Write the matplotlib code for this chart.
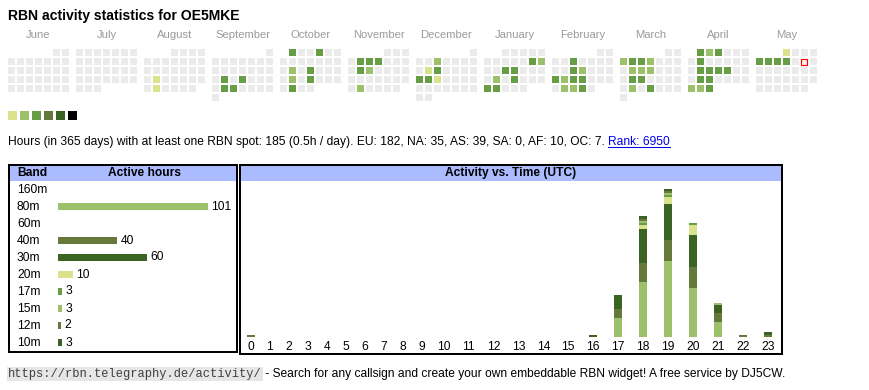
import datetime as dt
import calendar
import matplotlib
matplotlib.use("Agg")
import matplotlib.pyplot as plt
from matplotlib.patches import Rectangle
from matplotlib.lines import Line2D
from matplotlib.transforms import IdentityTransform

# ---------------- data ----------------
callsign = "OE5MKE"
first_month = (2024, 6)
n_months = 12
today = "2025-05-10"

# daily activity level (1..5) for days with RBN spots
active_days = {
    "2024-08-20": 1, "2024-08-27": 1,
    "2024-09-17": 3, "2024-09-19": 3, "2024-09-24": 3, "2024-09-25": 3,
    "2024-10-01": 3, "2024-10-04": 3, "2024-10-15": 2, "2024-10-17": 3,
    "2024-10-22": 2, "2024-10-24": 3, "2024-10-29": 3,
    "2024-11-05": 3, "2024-11-06": 3, "2024-11-07": 3, "2024-11-12": 3,
    "2024-11-13": 2, "2024-11-26": 2,
    "2024-12-04": 2, "2024-12-10": 1, "2024-12-11": 3, "2024-12-16": 3,
    "2024-12-17": 3, "2024-12-18": 1,
    "2025-01-11": 3, "2025-01-12": 2, "2025-01-15": 3, "2025-01-16": 3,
    "2025-01-21": 2, "2025-01-23": 3, "2025-01-27": 3, "2025-01-28": 3,
    "2025-02-05": 3, "2025-02-12": 3, "2025-02-13": 2, "2025-02-17": 3,
    "2025-02-18": 2, "2025-02-19": 3, "2025-02-20": 3, "2025-02-25": 2,
    "2025-02-26": 2, "2025-02-27": 3,
    "2025-03-03": 2, "2025-03-04": 3, "2025-03-05": 3, "2025-03-06": 2,
    "2025-03-11": 2, "2025-03-12": 2, "2025-03-13": 2, "2025-03-18": 3,
    "2025-03-19": 3, "2025-03-25": 2, "2025-03-27": 3,
    "2025-04-01": 3, "2025-04-02": 2, "2025-04-03": 3, "2025-04-08": 3,
    "2025-04-15": 3, "2025-04-16": 3, "2025-04-17": 3, "2025-04-18": 3,
    "2025-04-22": 3, "2025-04-23": 3, "2025-04-28": 2, "2025-04-29": 2,
    "2025-04-30": 3,
    "2025-05-01": 1, "2025-05-05": 3, "2025-05-06": 3, "2025-05-07": 3,
    "2025-05-08": 3,
}

total_hours = 185
per_day = "0.5h / day"
continents = ["EU", "NA", "AS", "SA", "AF", "OC"]
continent_hours = [182, 35, 39, 0, 10, 7]
rank = 6950

bands = ["160m", "80m", "60m", "40m", "30m", "20m", "17m", "15m", "12m", "10m"]
band_hours = [0, 101, 0, 40, 60, 10, 3, 3, 2, 3]

hours = list(range(24))
hourly = {
    "80m": [0, 0, 0, 0, 0, 0, 0, 0, 0, 0, 0, 0, 0, 0, 0, 0, 0, 9, 26, 36, 23, 7, 0, 0],
    "40m": [1, 0, 0, 0, 0, 0, 0, 0, 0, 0, 0, 0, 0, 0, 0, 0, 0, 4, 9, 10, 10, 4, 1, 1],
    "30m": [0, 0, 0, 0, 0, 0, 0, 0, 0, 0, 0, 0, 0, 0, 0, 0, 1, 7, 16, 17, 15, 4, 0, 0],
    "20m": [0, 0, 0, 0, 0, 0, 0, 0, 0, 0, 0, 0, 0, 0, 0, 0, 0, 0, 2, 3, 5, 0, 0, 0],
    "17m": [0, 0, 0, 0, 0, 0, 0, 0, 0, 0, 0, 0, 0, 0, 0, 0, 0, 0, 1, 1, 1, 0, 0, 0],
    "15m": [0, 0, 0, 0, 0, 0, 0, 0, 0, 0, 0, 0, 0, 0, 0, 0, 0, 0, 1, 1, 0, 1, 0, 0],
    "12m": [0, 0, 0, 0, 0, 0, 0, 0, 0, 0, 0, 0, 0, 0, 0, 0, 0, 0, 1, 1, 0, 0, 0, 0],
    "10m": [0, 0, 0, 0, 0, 0, 0, 0, 0, 0, 0, 0, 0, 0, 0, 0, 0, 0, 1, 1, 0, 0, 0, 1],
}

# ---------------- styles ----------------
level_colors = ["#ebebeb", "#dbe28e", "#9dc06a", "#679e45", "#64793a", "#3b6324", "#000000"]
band_colors = {
    "160m": "#dbe28e", "80m": "#9dc06a", "60m": "#679e45", "40m": "#64793a",
    "30m": "#3b6324", "20m": "#dbe28e", "17m": "#679e45", "15m": "#9dc06a",
    "12m": "#64793a", "10m": "#3b6324",
}
header_blue = "#aabbff"
FONT = "Liberation Sans"
MONO = "Liberation Mono"
FS = 12  # body text size in px


def pt(px):
    return px * 72.0 / 100.0


W, H = 870, 390
fig = plt.figure(figsize=(W / 100, H / 100), dpi=100)
fig.patch.set_facecolor("white")

bg = fig.add_axes([0, 0, 1, 1])
bg.set_xlim(0, W)
bg.set_ylim(H, 0)
bg.axis("off")


def fig_rect(x0, y0, x1, y1):
    return [x0 / W, 1 - y1 / H, (x1 - x0) / W, (y1 - y0) / H]


# ---------------- title ----------------
bg.text(8, 16, f"RBN activity statistics for {callsign}", fontsize=pt(14),
        fontweight="bold", family=FONT, va="center", ha="left", color="black")

# ---------------- calendar heat map ----------------
cell, pitch = 7, 9
grid_top = 49
block_w = 68
y, m = first_month
for k in range(n_months):
    x0 = 8 + block_w * k
    first_wd = dt.date(y, m, 1).weekday()
    ndays = calendar.monthrange(y, m)[1]
    bg.text(x0 + 3 * pitch + cell / 2, 35, calendar.month_name[m], fontsize=pt(11.2),
            family=FONT, color="#9a9a9a", ha="center", va="center")
    for d in range(1, ndays + 1):
        row, col = divmod(first_wd + d - 1, 7)
        key = f"{y:04d}-{m:02d}-{d:02d}"
        lvl = active_days.get(key, 0)
        cx = x0 + pitch * col
        cy = grid_top + pitch * row
        if key == today:
            bg.add_patch(Rectangle((cx + 0.5, cy + 0.5), cell - 1, cell - 1,
                                   facecolor="#f6f6f6", edgecolor="#ff0000",
                                   linewidth=pt(1.2)))
        else:
            bg.add_patch(Rectangle((cx, cy), cell, cell, facecolor=level_colors[lvl],
                                   edgecolor="none"))
    m += 1
    if m > 12:
        m = 1
        y += 1

# legend squares
for i, c in enumerate(level_colors[1:]):
    bg.add_patch(Rectangle((8 + 12 * i, 111), 9, 9, facecolor=c, edgecolor="none"))

# ---------------- summary line ----------------
cont_txt = ", ".join(f"{c}: {v}" for c, v in zip(continents, continent_hours))
summary = (f"Hours (in 365 days) with at least one RBN spot: {total_hours} "
           f"({per_day}). {cont_txt}. ")
t_sum = bg.text(8, 142, summary, fontsize=pt(FS), family=FONT, va="center",
                ha="left", color="black")
t_rank = bg.annotate(f"Rank: {rank}", xy=(1, 0.5), xycoords=t_sum, va="center",
                     ha="left", fontsize=pt(FS), family=FONT, color="#0000ee")

# ---------------- band table ----------------
bg.add_patch(Rectangle((9, 164.5), 228, 187, facecolor="white", edgecolor="black",
                       linewidth=pt(2), zorder=1))
bg.add_patch(Rectangle((10, 165.5), 226, 15, facecolor=header_blue, edgecolor="none",
                       zorder=2))
bg.text(17, 173, "Band", fontsize=pt(FS), fontweight="bold", family=FONT,
        va="center", ha="left", zorder=3)
bg.text(145, 173, "Active hours", fontsize=pt(FS), fontweight="bold", family=FONT,
        va="center", ha="center", zorder=3)
row_top, row_h = 181, 17
for i, b in enumerate(bands):
    bg.text(17, row_top + row_h * (i + 0.5) + 0.5, b, fontsize=pt(FS), family=FONT,
            va="center", ha="left", zorder=3)

bar_left, bar_px = 58, 150
axb = fig.add_axes(fig_rect(bar_left, row_top, bar_left + bar_px, row_top + row_h * len(bands)))
axb.set_xlim(0, max(band_hours))
axb.set_ylim(len(bands) - 0.5, -0.5)
axb.axis("off")
axb.patch.set_alpha(0)
for i, (b, v) in enumerate(zip(bands, band_hours)):
    if v <= 0:
        continue
    axb.barh(i, v, height=7 / row_h, color=band_colors[b], edgecolor="none")
    axb.annotate(str(v), xy=(v, i), xytext=(pt(3.5), 0), textcoords="offset points",
                 va="center", ha="left", fontsize=pt(FS), family=FONT,
                 annotation_clip=False)

# ---------------- activity vs time ----------------
bg.add_patch(Rectangle((240, 164.5), 542, 189, facecolor="white", edgecolor="black",
                       linewidth=pt(2), zorder=1))
bg.add_patch(Rectangle((241, 165.5), 540, 15, facecolor=header_blue, edgecolor="none",
                       zorder=2))
bg.text(511, 173, "Activity vs. Time (UTC)", fontsize=pt(FS), fontweight="bold",
        family=FONT, va="center", ha="center", zorder=3)

# column widths follow label text width (html table layout)
col_w = [12.9 + 6.0 * len(str(h)) for h in hours]
centers = []
acc = 0.0
for w in col_w:
    centers.append(acc + w / 2)
    acc += w
totals = [sum(hourly[b][h] for b in hourly) for h in hours]
ymax = max(totals)
base_y, top_y = 336.7, 189.0
axa = fig.add_axes(fig_rect(241.5, top_y, 780.5, base_y))
axa.set_xlim(0, acc)
axa.set_ylim(0, ymax)
axa.patch.set_alpha(0)
for s in axa.spines.values():
    s.set_visible(False)
axa.set_yticks([])
bw = 8 * acc / (780.5 - 241.5)
bottom = [0] * 24
for b in bands:
    if b not in hourly:
        continue
    vals = hourly[b]
    axa.bar(centers, vals, width=bw, bottom=bottom, color=band_colors[b],
            edgecolor="none")
    bottom = [p + q for p, q in zip(bottom, vals)]
axa.set_xticks(centers)
axa.set_xticklabels([str(h) for h in hours], fontsize=pt(FS), family=FONT)
axa.tick_params(axis="x", length=0, pad=pt(4))

# ---------------- footer ----------------
t_url = bg.text(8, 374, "https://rbn.telegraphy.de/activity/", fontsize=pt(12.0),
                family=MONO, color="#404040", va="center", ha="left",
                bbox=dict(boxstyle="square,pad=0.1", facecolor="#e6e6e6",
                          edgecolor="none"))
bg.annotate(" - Search for any callsign and create your own embeddable RBN widget! "
            "A free service by DJ5CW.", xy=(1, 0.5), xycoords=t_url, va="center",
            ha="left", fontsize=pt(FS), family=FONT, color="black")

# underline link
fig.canvas.draw()
r = fig.canvas.get_renderer()
bb = t_rank.get_window_extent(r)
fig.add_artist(Line2D([bb.x0, bb.x1], [bb.y0 + 1.5, bb.y0 + 1.5], color="#0000ee",
                      linewidth=pt(1), transform=IdentityTransform()))

fig.savefig("out.png", dpi=100, facecolor="white")
